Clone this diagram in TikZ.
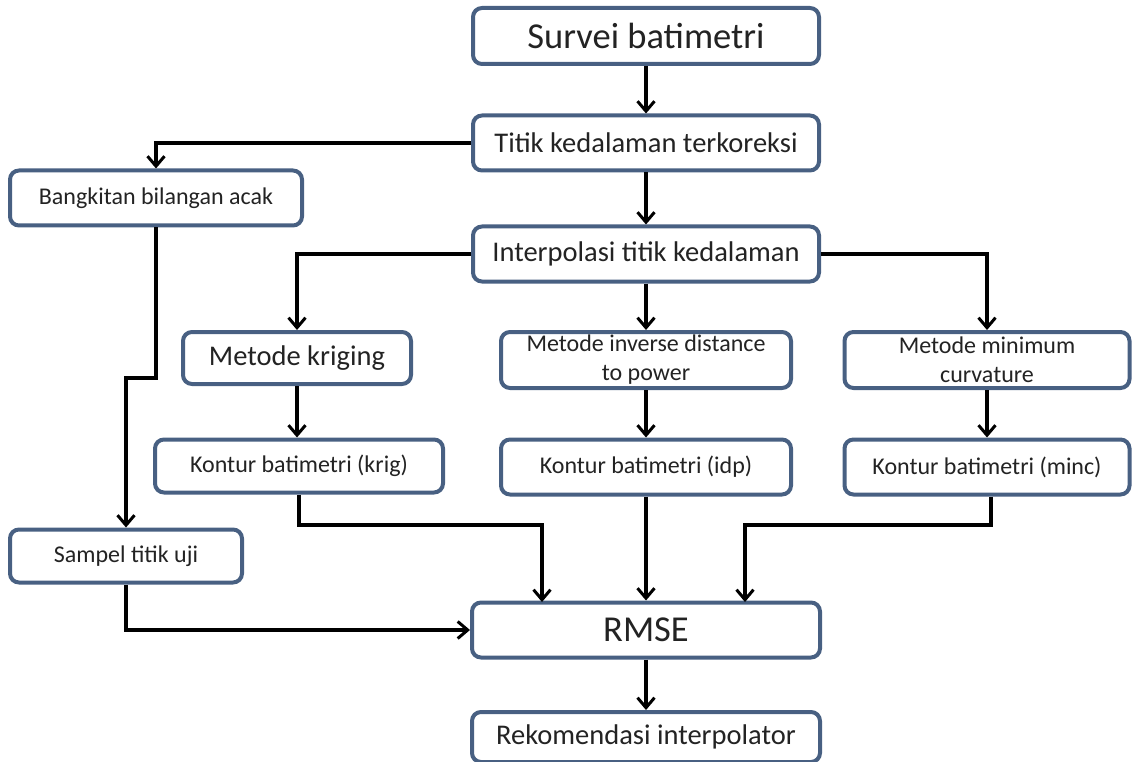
\documentclass[tikz,border=0pt]{standalone}
\usepackage{fontspec}
\setmainfont{Carlito}
\usetikzlibrary{arrows.meta}
\definecolor{boxline}{RGB}{72,96,130}
\definecolor{txt}{RGB}{35,35,35}
\tikzset{
  box/.style={draw=boxline, line width=4pt, rounded corners=9pt, fill=white,
    text=txt, align=center, inner sep=2pt},
  small/.style={font=\fontsize{24}{29}\selectfont},
  medium/.style={font=\fontsize{28.5}{33}\selectfont},
  large/.style={font=\fontsize{36.5}{40}\selectfont},
  arr/.style={draw=black, line width=3.2pt, -{Straight Barb[length=10pt,width=17pt,line width=3pt]}},
}
\begin{document}
\begin{tikzpicture}[x=1pt,y=-1pt]
\useasboundingbox (0,0) rectangle (1135,762);
\node[box, large, minimum width=346, minimum height=56] (survei) at (646,36) {Survei batimetri};
\node[box, medium, minimum width=346, minimum height=55] (titik) at (646,143) {Titik kedalaman terkoreksi};
\node[box, small, minimum width=292, minimum height=55] (bangkit) at (156,198) {Bangkitan bilangan acak};
\node[box, medium, minimum width=346, minimum height=55] (interp) at (646,254) {Interpolasi titik kedalaman};
\node[box, medium, minimum width=228, minimum height=52] (kriging) at (297,358) {Metode kriging};
\node[box, small, minimum width=290, minimum height=56] (idw) at (646,360) {Metode inverse distance\\to power};
\node[box, small, minimum width=285, minimum height=56] (mc) at (987,360) {Metode minimum\\curvature};
\node[box, small, minimum width=288, minimum height=53] (ckrig) at (299,466) {Kontur batimetri (krig)};
\node[box, small, minimum width=290, minimum height=55] (cidp) at (646,467) {Kontur batimetri (idp)};
\node[box, small, minimum width=285, minimum height=55] (cminc) at (987,467) {Kontur batimetri (minc)};
\node[box, small, minimum width=232, minimum height=53] (sampel) at (126,556) {Sampel titik uji};
\node[box, large, minimum width=348, minimum height=55] (rmse) at (646,630) {RMSE};
\node[box, medium, minimum width=348, minimum height=50] (rekom) at (646,737) {Rekomendasi interpolator};

\coordinate (b1) at (156,378);
\coordinate (b2) at (126,378);
\coordinate (k1) at (299,525);
\coordinate (k2) at (542,525);
\coordinate (m1) at (991,525);
\coordinate (m2) at (745,525);
\coordinate (k3) at (542,602);
\coordinate (m3) at (745,602);

\draw[arr] (survei) -- (titik);
\draw[arr] (titik.west) -| (bangkit.north);
\draw[arr] (titik) -- (interp);
\draw[arr] (interp.west) -| (kriging.north);
\draw[arr] (interp) -- (idw);
\draw[arr] (interp.east) -| (mc.north);
\draw[arr] (kriging) -- (kriging |- ckrig.north);
\draw[arr] (idw) -- (cidp);
\draw[arr] (mc) -- (cminc);
\draw[arr] (bangkit.south) -- (b1) -- (b2) -- (sampel.north);
\draw[arr] (ckrig.south) -- (k1) -- (k2) -- (k3);
\draw[arr] (cidp) -- (rmse);
\draw[arr] (cminc.south -| m1) -- (m1) -- (m2) -- (m3);
\draw[arr] (sampel.south) |- (rmse.west);
\draw[arr] (rmse) -- (rekom);
\end{tikzpicture}
\end{document}
